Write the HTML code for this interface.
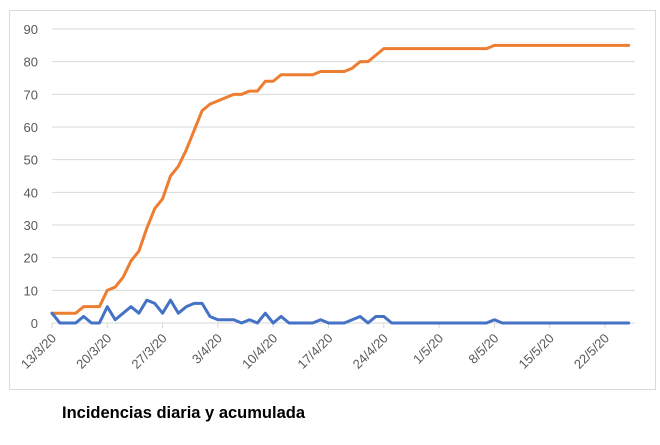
<!DOCTYPE html>
<html><head><meta charset="utf-8"><style>
body{margin:0;background:#fff;width:660px;height:440px;overflow:hidden;font-family:"Liberation Sans",sans-serif}
</style></head><body>
<svg id="c" width="660" height="440" xmlns="http://www.w3.org/2000/svg">
<rect x="9.5" y="10.5" width="646" height="379" fill="#fff" stroke="#d9d9d9"/>
<g id="grid"></g>
<g id="ylab"></g>
<g id="xlab"></g>
<g id="series"></g>
<text x="62" y="418" font-size="16.5" font-weight="bold" fill="#000">Incidencias diaria y acumulada</text>
</svg>
<script>
const daily=[3,0,0,0,2,0,0,5,1,3,5,3,7,6,3,7,3,5,6,6,2,1,1,1,0,1,0,3,0,2,0,0,0,0,1,0,0,0,1,2,0,2,2,0,0,0,0,0,0,0,0,0,0,0,0,0,1,0,0,0,0,0,0,0,0,0,0,0,0,0,0,0,0,0];
const cumulative=[3,3,3,3,5,5,5,10,11,14,19,22,29,35,38,45,48,53,59,65,67,68,69,70,70,71,71,74,74,76,76,76,76,76,77,77,77,77,78,80,80,82,84,84,84,84,84,84,84,84,84,84,84,84,84,84,85,85,85,85,85,85,85,85,85,85,85,85,85,85,85,85,85,85];
const yTicks=[0,10,20,30,40,50,60,70,80,90];
const xTickLabels=["13/3/20","20/3/20","27/3/20","3/4/20","10/4/20","17/4/20","24/4/20","1/5/20","8/5/20","15/5/20","22/5/20"];
const tickEvery=7;
const NS="http://www.w3.org/2000/svg";
const x0=52,dx=7.9,y0=323,yMax=90,yTop=29,gridRight=635;
const X=i=>x0+i*dx;
const Y=v=>y0-(v/yMax)*(y0-yTop);
function mk(t,a,p){const e=document.createElementNS(NS,t);for(const k in a)e.setAttribute(k,a[k]);p.appendChild(e);return e;}
const grid=document.getElementById('grid'),ylab=document.getElementById('ylab'),xlab=document.getElementById('xlab'),ser=document.getElementById('series');
yTicks.forEach(v=>{
 const l=mk('line',{x1:x0,x2:gridRight,y1:Y(v),y2:Y(v),stroke:'#d9d9d9','stroke-width':1},grid);
 
 
 const t=mk('text',{x:38,y:Y(v)+5,'text-anchor':'end','font-size':13,fill:'#595959'},ylab);
 t.textContent=v;
 
 
});
xTickLabels.forEach((s,k)=>{
 const x=X(k*tickEvery);
 const tk=mk('line',{x1:x,x2:x,y1:y0,y2:y0+5,stroke:'#d9d9d9'},grid);
 
 
 const t=mk('text',{x:x+5,y:y0+16,'text-anchor':'end','font-size':13,fill:'#595959',transform:`rotate(-45 ${x+5} ${y0+16})`},xlab);
 t.textContent=s;
 
 
});
function line(arr,color,name){
 const p=mk('polyline',{points:arr.map((v,i)=>X(i)+','+Y(v)).join(' '),fill:'none',stroke:color,'stroke-width':3,'stroke-linejoin':'round','stroke-linecap':'round'},ser);
 
 
}
line(cumulative,'#ed7d31','cumulative-line');
line(daily,'#4472c4','daily-line');
</script>
</body></html>
